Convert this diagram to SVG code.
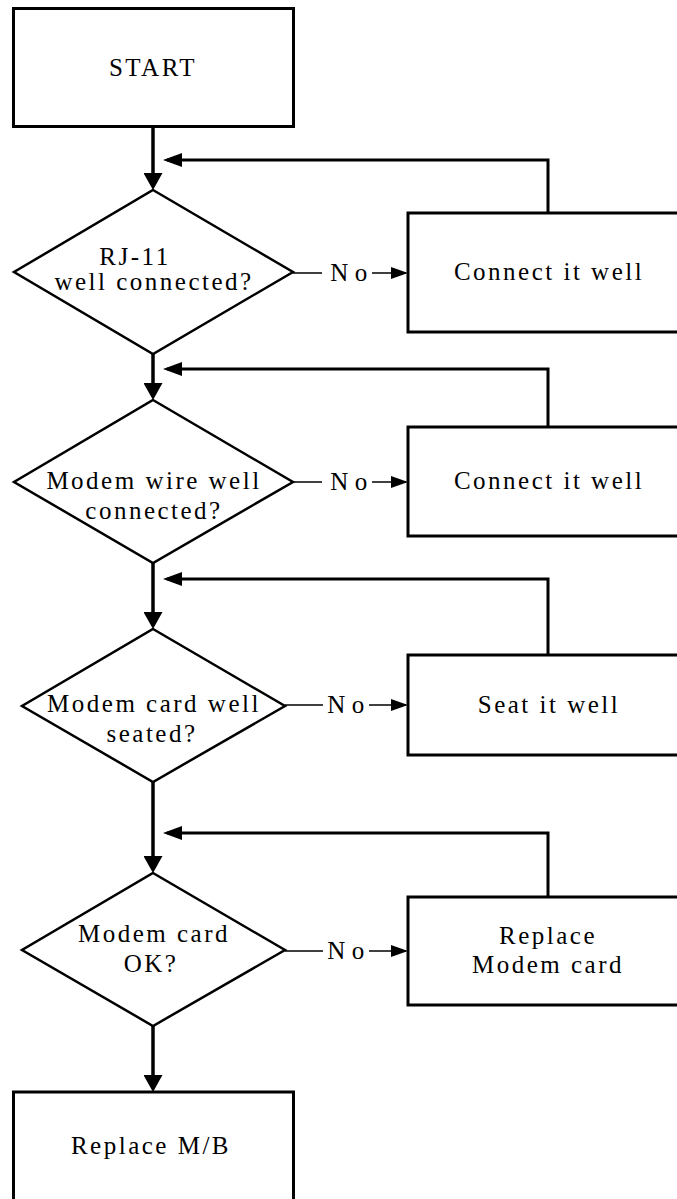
<svg xmlns="http://www.w3.org/2000/svg" width="677" height="1199" viewBox="0 0 677 1199">
<style>
.box{fill:#fff;stroke:#000;stroke-width:3}
.dia{fill:#fff;stroke:#000;stroke-width:2.5}
text{font-family:'Liberation Serif','Times New Roman',Times,serif;font-size:25px;fill:#000;text-anchor:middle}
.t{letter-spacing:2.5px}
.no{letter-spacing:6.5px}
.flow{stroke:#000;stroke-width:3.5;fill:none}
.fb{stroke:#000;stroke-width:3;fill:none}
.thin{stroke:#000;stroke-width:1.5;fill:none}
</style>
<defs>
<marker id="aMain" markerUnits="userSpaceOnUse" markerWidth="17" markerHeight="19" refX="13" refY="9.5" orient="auto">
<path d="M0,0 L17,9.5 L0,19 z" fill="#000"/>
</marker>
<marker id="aFb" markerUnits="userSpaceOnUse" markerWidth="19" markerHeight="14" refX="15" refY="7" orient="auto">
<path d="M0,0 L19,7 L0,14 z" fill="#000"/>
</marker>
<marker id="aNo" markerUnits="userSpaceOnUse" markerWidth="17" markerHeight="12" refX="15" refY="6" orient="auto">
<path d="M0,0 L17,6 L0,12 z" fill="#000"/>
</marker>
</defs>

<g id="connectors">
<line class="flow" x1="153" y1="127" x2="153" y2="186" marker-end="url(#aMain)"/>
<line class="flow" x1="153" y1="354" x2="153" y2="396" marker-end="url(#aMain)"/>
<line class="flow" x1="153" y1="563" x2="153" y2="625" marker-end="url(#aMain)"/>
<line class="flow" x1="153" y1="782" x2="153" y2="869" marker-end="url(#aMain)"/>
<line class="flow" x1="153" y1="1026" x2="153" y2="1088" marker-end="url(#aMain)"/>

<path class="fb" d="M548,213 V160 H167" marker-end="url(#aFb)"/>
<path class="fb" d="M548,427 V369 H167" marker-end="url(#aFb)"/>
<path class="fb" d="M548,655 V579 H167" marker-end="url(#aFb)"/>
<path class="fb" d="M548,897 V833 H167" marker-end="url(#aFb)"/>

<line class="thin" x1="293" y1="273" x2="322" y2="273"/>
<line class="thin" x1="372" y1="273" x2="406" y2="273" marker-end="url(#aNo)"/>
<text class="no" x="352" y="281">No</text>

<line class="thin" x1="293" y1="482" x2="322" y2="482"/>
<line class="thin" x1="372" y1="482" x2="406" y2="482" marker-end="url(#aNo)"/>
<text class="no" x="352" y="490">No</text>

<line class="thin" x1="285" y1="705" x2="323" y2="705"/>
<line class="thin" x1="369" y1="705" x2="406" y2="705" marker-end="url(#aNo)"/>
<text class="no" x="349" y="713">No</text>

<line class="thin" x1="285" y1="951" x2="323" y2="951"/>
<line class="thin" x1="369" y1="951" x2="406" y2="951" marker-end="url(#aNo)"/>
<text class="no" x="349" y="959">No</text>
</g>

<g id="start">
<rect class="box" x="13.5" y="8.5" width="280" height="118"/>
<text class="t" x="153" y="76">START</text>
</g>

<g id="d1">
<polygon class="dia" points="153,190 293,272 153,354 14,272"/>
<text class="t" x="135" y="265">RJ-11</text>
<text class="t" x="154" y="290">well connected?</text>
</g>

<g id="b1">
<rect class="box" x="408" y="213" width="280" height="119"/>
<text class="t" x="549" y="280">Connect it well</text>
</g>

<g id="d2">
<polygon class="dia" points="153,400 293,482 153,563 14,482"/>
<text class="t" x="154" y="489">Modem wire well</text>
<text class="t" x="154" y="519">connected?</text>
</g>

<g id="b2">
<rect class="box" x="408" y="427" width="280" height="109"/>
<text class="t" x="549" y="489">Connect it well</text>
</g>

<g id="d3">
<polygon class="dia" points="153,629 285,706 153,782 22,706"/>
<text class="t" x="154" y="712">Modem card well</text>
<text class="t" x="152" y="742">seated?</text>
</g>

<g id="b3">
<rect class="box" x="408" y="655" width="280" height="100"/>
<text class="t" x="549" y="713">Seat it well</text>
</g>

<g id="d4">
<polygon class="dia" points="153,873 285,950 153,1026 22,950"/>
<text class="t" x="154" y="942">Modem card</text>
<text class="t" x="151" y="972">OK?</text>
</g>

<g id="b4">
<rect class="box" x="408" y="897" width="280" height="108"/>
<text class="t" x="548" y="944">Replace</text>
<text class="t" x="548" y="973">Modem card</text>
</g>

<g id="end">
<rect class="box" x="13.5" y="1092" width="280" height="130"/>
<text class="t" x="151" y="1154">Replace M/B</text>
</g>
</svg>
